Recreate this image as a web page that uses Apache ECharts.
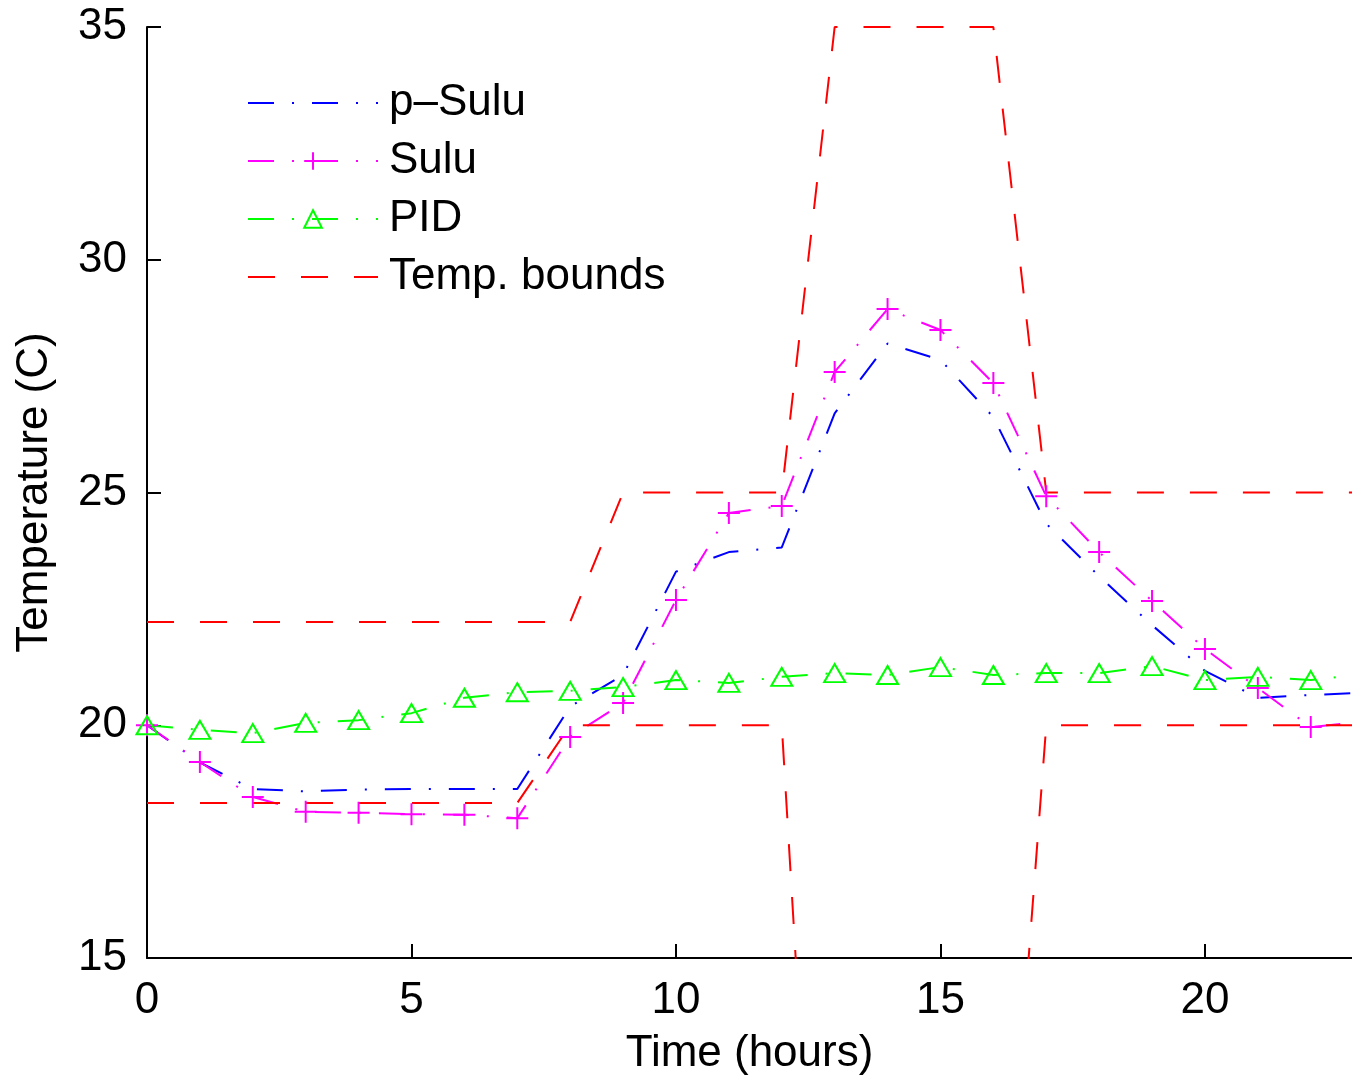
<!DOCTYPE html>
<html>
<head>
<meta charset="utf-8">
<script src="https://cdn.jsdelivr.net/npm/echarts@6/dist/echarts.min.js"></script>
<style>
html, body { margin: 0; padding: 0; background: #fff; }
#main { width: 1352px; height: 1077px; }
</style>
</head>
<body>
<div id="main"></div>
<script>
// hours 0..23
var hours = [0,1,2,3,4,5,6,7,8,9,10,11,12,13,14,15,16,17,18,19,20,21,22,23];

var pSulu = [20.0,19.2,18.63,18.58,18.62,18.63,18.63,18.63,20.4,21.08,23.3,23.72,23.82,26.7,28.2,27.85,26.62,24.33,23.2,22.15,21.17,20.59,20.65,20.7];
var sulu = [20.0,19.21,18.46,18.14,18.12,18.09,18.08,18.0,19.75,20.48,22.69,24.56,24.71,27.59,28.94,28.49,27.35,24.92,23.72,22.67,21.64,20.8,19.96,20.08];
var pid = [20.0,19.9,19.83,20.05,20.11,20.26,20.59,20.71,20.74,20.82,20.97,20.91,21.04,21.12,21.08,21.25,21.08,21.12,21.12,21.27,20.97,21.04,20.97,21.1];

// temperature bounds
var upperBound = [22.22,22.22,22.22,22.22,22.22,22.22,22.22,22.22,22.22,25,25,25,25,35,35,35,35,25,25,25,25,25,25,25];
var lowerBound = [18.33,18.33,18.33,18.33,18.33,18.33,18.33,18.33,20,20,20,20,20,1,3,5,5,20,20,20,20,20,20,20];

var yTicks = [15, 20, 25, 30, 35];

function pairs(ys) {
	return hours.map(function(h, i) { return [h, ys[i]]; });
}

var chart = echarts.init(document.getElementById('main'));
var font = 'Liberation Sans, Arial, Helvetica, sans-serif';
var dashDot = [26, 18, 2, 18];
var noMark = { color: 'rgba(0,0,0,0)', borderWidth: 0, opacity: 0 };

var option = {
	backgroundColor: '#fff',
	animation: false,
	textStyle: { fontFamily: font },
	grid: { left: 147, right: 0, top: 27, bottom: 119, containLabel: false, outerBoundsMode: 'none' },
	legend: {
		orient: 'vertical',
		left: 242,
		top: 76,
		itemWidth: 130,
		itemHeight: 22,
		itemGap: 14,
		data: [
			{ name: 'p\u2013Sulu', itemStyle: noMark },
			{ name: 'Sulu' },
			{ name: 'PID' },
			{ name: 'Temp. bounds', itemStyle: noMark }
		],
		textStyle: { fontSize: 44, color: '#000', fontFamily: font, padding: [0, 0, 0, 6], lineHeight: 44 }
	},
	xAxis: {
		type: 'value',
		min: 0,
		max: 22.78,
		interval: 5,
		name: 'Time (hours)',
		nameLocation: 'middle',
		nameGap: 74,
		nameTextStyle: { fontSize: 44, color: '#000', fontFamily: font },
		axisLine: { lineStyle: { color: '#000', width: 2 } },
		axisTick: { inside: true, length: 14, lineStyle: { color: '#000', width: 2 } },
		axisLabel: {
			fontSize: 44, color: '#000', margin: 21, fontFamily: font,
			showMaxLabel: false,
			formatter: function(v) { return v % 5 === 0 ? String(v) : ''; }
		},
		splitLine: { show: false }
	},
	yAxis: {
		type: 'value',
		min: yTicks[0],
		max: yTicks[yTicks.length - 1],
		interval: 5,
		name: 'Temperature (C)',
		nameLocation: 'middle',
		nameGap: 90,
		nameTextStyle: { fontSize: 44, color: '#000', fontFamily: font },
		axisLine: { show: true, lineStyle: { color: '#000', width: 2 } },
		axisTick: { show: true, inside: true, length: 14, lineStyle: { color: '#000', width: 2 } },
		axisLabel: { fontSize: 44, color: '#000', margin: 20, fontFamily: font },
		splitLine: { show: false }
	},
	series: [
		{
			name: 'p\u2013Sulu',
			type: 'line',
			data: pairs(pSulu),
			symbol: 'none',
			color: '#0000ff',
			lineStyle: { color: '#0000ff', width: 2, type: dashDot }
		},
		{
			name: 'Sulu',
			type: 'line',
			data: pairs(sulu),
			symbol: 'path://M10,0L10,20M0,10L20,10',
			symbolSize: 22,
			showAllSymbol: true,
			color: '#ff00ff',
			itemStyle: { color: 'rgba(0,0,0,0)', borderColor: '#ff00ff', borderWidth: 2 },
			lineStyle: { color: '#ff00ff', width: 2, type: dashDot }
		},
		{
			name: 'PID',
			type: 'line',
			data: pairs(pid),
			symbol: 'triangle',
			symbolSize: [21, 18],
			showAllSymbol: true,
			color: '#00ff00',
			itemStyle: { color: 'rgba(0,0,0,0)', borderColor: '#00ff00', borderWidth: 2 },
			lineStyle: { color: '#00ff00', width: 2, type: dashDot }
		},
		{
			name: 'Temp. bounds',
			type: 'line',
			data: pairs(upperBound),
			symbol: 'none',
			color: '#ff0000',
			lineStyle: { color: '#ff0000', width: 2, type: [27, 26] }
		},
		{
			name: 'Temp. bounds',
			type: 'line',
			data: pairs(lowerBound),
			symbol: 'none',
			color: '#ff0000',
			lineStyle: { color: '#ff0000', width: 2, type: [27, 26] }
		}
	]
};

chart.setOption(option);
</script>
</body>
</html>
